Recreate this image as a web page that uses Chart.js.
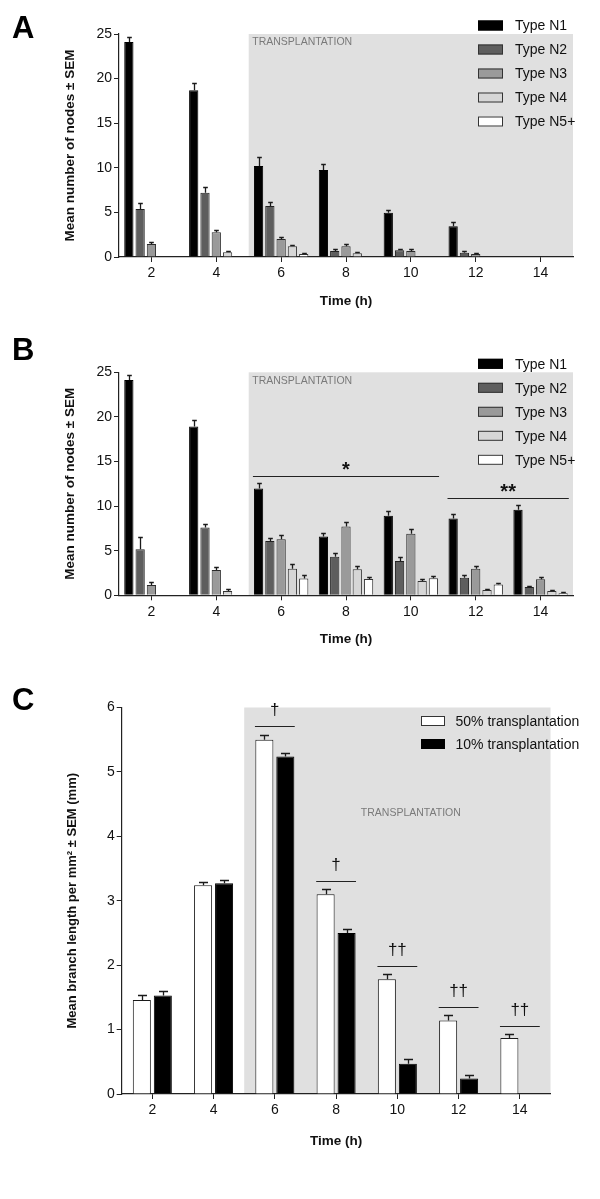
<!DOCTYPE html>
<html>
<head>
<meta charset="utf-8">
<script src="https://cdn.jsdelivr.net/npm/chart.js@4"></script>
<style>
  html, body { margin: 0; padding: 0; background: #fff; }
  body { width: 600px; height: 1199px; position: relative; overflow: hidden; }
  canvas { position: absolute; left: 0; }
</style>
</head>
<body>
<canvas id="cA" width="600" height="320" style="top:0px"></canvas>
<canvas id="cB" width="600" height="340" style="top:320px"></canvas>
<canvas id="cC" width="600" height="539" style="top:660px"></canvas>
<script>
// ---------- DATA ----------
const timeLabels = ['2', '4', '6', '8', '10', '12', '14'];
const nodeTypes = ['Type N1', 'Type N2', 'Type N3', 'Type N4', 'Type N5+'];

// Panel A: mean number of nodes
const aN1 = [24.1, 18.7, 10.2, 9.75, 4.95, 3.45, null];
const aN2 = [5.38, 7.21, 5.72, 0.67, 0.75, 0.49, null];
const aN3 = [1.46, 2.77, 2.02, 1.2, 0.67, 0.34, null];
const aN4 = [null, 0.52, 1.2, 0.41, null, null, null];
const aN5 = [null, null, 0.34, null, null, null, null];
const aN1sem = [0.55, 0.85, 1.0, 0.7, 0.37, 0.52, null];
const aN2sem = [0.7, 0.6, 0.4, 0.19, 0.18, 0.18, null];
const aN3sem = [0.26, 0.26, 0.26, 0.22, 0.19, 0.11, null];
const aN4sem = [null, 0.19, 0.18, 0.11, null, null, null];
const aN5sem = [null, null, 0.11, null, null, null, null];

// Panel B: mean number of nodes
const bN1 = [24.14, 18.91, 11.96, 6.58, 8.93, 8.6, 9.6];
const bN2 = [5.16, 7.59, 6.09, 4.33, 3.85, 1.98, 0.93];
const bN3 = [1.16, 2.84, 6.28, 7.7, 6.91, 2.99, 1.79];
const bN4 = [null, 0.49, 2.99, 2.91, 1.61, 0.6, 0.49];
const bN5 = [null, null, 1.87, 1.83, 1.91, 1.2, 0.22];
const bN1sem = [0.6, 0.75, 0.6, 0.37, 0.56, 0.56, 0.49];
const bN2sem = [1.42, 0.44, 0.37, 0.38, 0.48, 0.34, 0.15];
const bN3sem = [0.37, 0.37, 0.45, 0.56, 0.56, 0.34, 0.27];
const bN4sem = [null, 0.18, 0.52, 0.42, 0.22, 0.15, 0.11];
const bN5sem = [null, null, 0.41, 0.26, 0.26, 0.18, 0.12];
const bSigFrom = [2, 5];
const bSigTo = [4, 6];
const bSigLevel = [13.37, 10.9];
const bSigText = ['*', '**'];

// Panel C: mean branch length per mm2
const cSeries = ['50% transplantation', '10% transplantation'];
const c50 = [1.46, 3.24, 5.5, 3.1, 1.78, 1.14, 0.87];
const c10 = [1.53, 3.27, 5.24, 2.5, 0.47, 0.24, null];
const c50sem = [0.07, 0.05, 0.07, 0.08, 0.08, 0.09, 0.06];
const c10sem = [0.07, 0.05, 0.06, 0.06, 0.07, 0.05, null];
const cSigLevel = [null, null, 5.72, 3.31, 1.98, 1.35, 1.05];
const cSigText = ['', '', '\u2020', '\u2020', '\u2020\u2020', '\u2020\u2020', '\u2020\u2020'];

// ---------- STYLE ----------
const FONT = '"Liberation Sans", Arial, Helvetica, sans-serif';
const nodeFill = ['#000000', '#5e5e5e', '#9a9a9a', '#d6d6d6', '#ffffff'];
const nodeEdge = ['#000000', '#222222', '#2a2a2a', '#333333', '#333333'];

const decor = {
  id: 'decor',
  beforeDraw(chart, args, o) {
    const {ctx, chartArea: ca, scales: {x, y}} = chart;
    ctx.save();
    const x0 = x.getPixelForValue(o.shadeFrom);
    ctx.fillStyle = '#e0e0e0';
    ctx.fillRect(x0, ca.top, ca.right - x0, ca.bottom - ca.top);
    ctx.fillStyle = '#7a7a7a';
    ctx.font = '10.5px ' + FONT;
    ctx.textBaseline = 'middle';
    if (o.tpCenter) {
      ctx.textAlign = 'center';
      ctx.fillText('TRANSPLANTATION', x.getPixelForValue(o.tpX), y.getPixelForValue(o.tpY));
    } else {
      ctx.textAlign = 'left';
      ctx.fillText('TRANSPLANTATION', x0 + 3.5, ca.top + o.tpDy);
    }
    ctx.restore();
  },
  afterDatasetsDraw(chart) {
    const {ctx, scales: {y}} = chart;
    ctx.save();
    ctx.strokeStyle = '#1a1a1a';
    ctx.lineWidth = 1.3;
    chart.data.datasets.forEach((ds, i) => {
      const meta = chart.getDatasetMeta(i);
      meta.data.forEach((bar, j) => {
        const v = ds.data[j], e = ds.sem[j];
        if (v == null || e == null) return;
        const p = bar.getProps(['x', 'y', 'width'], true);
        const yt = Math.round(y.getPixelForValue(v + e)) + 0.5;
        const cx = Math.round(p.x) + 0.5;
        const hw = p.width / 4;
        ctx.beginPath();
        ctx.moveTo(cx, p.y);
        ctx.lineTo(cx, yt);
        ctx.moveTo(cx - hw, yt);
        ctx.lineTo(cx + hw, yt);
        ctx.stroke();
      });
    });
    ctx.restore();
  },
  afterDraw(chart, args, o) {
    const {ctx, chartArea: ca, scales: {x, y}} = chart;
    ctx.save();
    // legend
    ctx.font = '14px ' + FONT;
    ctx.textAlign = 'left';
    ctx.textBaseline = 'middle';
    chart.data.datasets.forEach((ds, i) => {
      const cy = ca.top + o.legTop + i * o.legStep;
      ctx.fillStyle = ds.backgroundColor;
      ctx.fillRect(o.legX, cy - 5, o.legW, 10);
      ctx.strokeStyle = ds.borderColor === '#000000' ? '#000' : '#333';
      ctx.lineWidth = 1;
      ctx.strokeRect(o.legX + 0.5, cy - 4.5, o.legW - 1, 9);
      ctx.fillStyle = '#111';
      ctx.fillText(ds.label, o.legTextX, cy + 1);
    });
    // significance marks
    ctx.strokeStyle = '#222';
    ctx.lineWidth = 1.2;
    ctx.fillStyle = '#111';
    ctx.textAlign = 'center';
    ctx.textBaseline = 'alphabetic';
    const half = o.sigHalf;
    (o.sig || []).forEach(s => {
      const xa = x.getPixelForValue(s.from) - half * x.getPixelForValue(1) + half * x.getPixelForValue(0);
      const xb = x.getPixelForValue(s.to) + half * (x.getPixelForValue(1) - x.getPixelForValue(0));
      const yl = Math.round(y.getPixelForValue(s.level)) + 0.5;
      ctx.beginPath(); ctx.moveTo(xa, yl); ctx.lineTo(xb, yl); ctx.stroke();
      ctx.font = o.sigFont;
      ctx.fillText(s.text, (xa + xb) / 2, yl - o.sigDy);
    });
    // panel letter
    ctx.font = 'bold 31px ' + FONT;
    ctx.textAlign = 'left';
    ctx.fillStyle = '#000';
    ctx.fillText(o.letter, 12, o.letterY);
    ctx.restore();
  }
};

function mkDatasets(labels, values, sems, fills, edges) {
  return labels.map((l, i) => ({
    label: l, data: values[i], sem: sems[i],
    backgroundColor: fills[i], borderColor: edges[i], borderWidth: 1
  }));
}

function mkOptions(p) {
  return {
    responsive: false,
    animation: false,
    devicePixelRatio: 1,
    layout: { padding: { top: p.padTop, right: p.padRight, left: 0, bottom: 0 } },
    datasets: { bar: { categoryPercentage: p.catPct, barPercentage: p.barPct } },
    plugins: {
      legend: { display: false },
      tooltip: { enabled: false },
      decor: p.decor
    },
    scales: {
      x: {
        afterFit: s => { s.height = p.xHeight; },
        grid: { offset: false, drawOnChartArea: false, drawTicks: true, tickLength: 5, color: '#222', lineWidth: 1 },
        border: { display: true, color: '#222', width: 1.2 },
        ticks: { font: { family: FONT, size: 14 }, color: '#111', padding: 3, maxRotation: 0, autoSkip: false },
        title: { display: true, text: 'Time (h)', font: { family: FONT, size: 13.5, weight: 'bold' }, color: '#111', padding: { top: 0, bottom: p.xTitlePad } }
      },
      y: {
        min: 0, max: p.yMax,
        afterFit: s => { s.width = p.yWidth; },
        grid: { drawOnChartArea: false, drawTicks: true, tickLength: 5, color: '#222', lineWidth: 1 },
        border: { display: true, color: '#222', width: 1.2 },
        ticks: { stepSize: p.yStep, font: { family: FONT, size: 14 }, color: '#111', padding: 2 },
        title: { display: true, text: p.yTitle, font: { family: FONT, size: p.yTitleSize, weight: 'bold' }, color: '#111', padding: { top: p.yTitlePad, bottom: 0 } }
      }
    }
  };
}

// Panel A
new Chart(document.getElementById('cA'), {
  type: 'bar',
  data: { labels: timeLabels, datasets: mkDatasets(nodeTypes, [aN1, aN2, aN3, aN4, aN5], [aN1sem, aN2sem, aN3sem, aN4sem, aN5sem], nodeFill, nodeEdge) },
  options: mkOptions({
    padTop: 34, padRight: 27, xHeight: 63, yWidth: 119, yMax: 25, yStep: 5,
    catPct: 0.87, barPct: 0.82, xTitlePad: 10.9,
    yTitle: 'Mean number of nodes \u00b1 SEM', yTitleSize: 13.5, yTitlePad: 62,
    decor: { shadeFrom: 1.5, tpDy: 8, letter: 'A', letterY: 38,
      legX: 478, legW: 25, legTop: -8.5, legStep: 24, legTextX: 515, sig: [], sigHalf: 0.435, sigFont: 'bold 20px ' + FONT, sigDy: 0 }
  }),
  plugins: [decor]
});

// Panel B
new Chart(document.getElementById('cB'), {
  type: 'bar',
  data: { labels: timeLabels, datasets: mkDatasets(nodeTypes, [bN1, bN2, bN3, bN4, bN5], [bN1sem, bN2sem, bN3sem, bN4sem, bN5sem], nodeFill, nodeEdge) },
  options: mkOptions({
    padTop: 52.3, padRight: 27, xHeight: 64.7, yWidth: 119, yMax: 25, yStep: 5,
    catPct: 0.87, barPct: 0.82, xTitlePad: 12.9,
    yTitle: 'Mean number of nodes \u00b1 SEM', yTitleSize: 13.5, yTitlePad: 62,
    decor: { shadeFrom: 1.5, tpDy: 8.4, letter: 'B', letterY: 40,
      legX: 478, legW: 25, legTop: -8.5, legStep: 24, legTextX: 515,
      sig: bSigFrom.map((f, i) => ({ from: f, to: bSigTo[i], level: bSigLevel[i], text: bSigText[i] })),
      sigHalf: 0.435, sigFont: 'bold 20px ' + FONT, sigDy: 1 }
  }),
  plugins: [decor]
});

// Panel C
new Chart(document.getElementById('cC'), {
  type: 'bar',
  data: { labels: timeLabels, datasets: mkDatasets(cSeries, [c50, c10], [c50sem, c10sem], ['#ffffff', '#000000'], ['#1a1a1a', '#000000']) },
  options: mkOptions({
    padTop: 47.5, padRight: 49.5, xHeight: 105, yWidth: 121.7, yMax: 6, yStep: 1,
    catPct: 0.685, barPct: 0.86, xTitlePad: 49.9,
    yTitle: 'Mean branch length per mm\u00b2 \u00b1 SEM (mm)', yTitleSize: 13, yTitlePad: 64.9,
    decor: { shadeFrom: 1.5, tpCenter: true, tpX: 4.22, tpY: 4.36, letter: 'C', letterY: 50,
      legX: 421, legW: 24, legTop: 13.5, legStep: 23, legTextX: 455.5,
      sig: cSigLevel.map((l, i) => ({ from: i, to: i, level: l, text: cSigText[i] })).filter(s => s.level != null),
      sigHalf: 0.325, sigFont: '17px ' + FONT, sigDy: 12 }
  }),
  plugins: [decor]
});
</script>
</body>
</html>
